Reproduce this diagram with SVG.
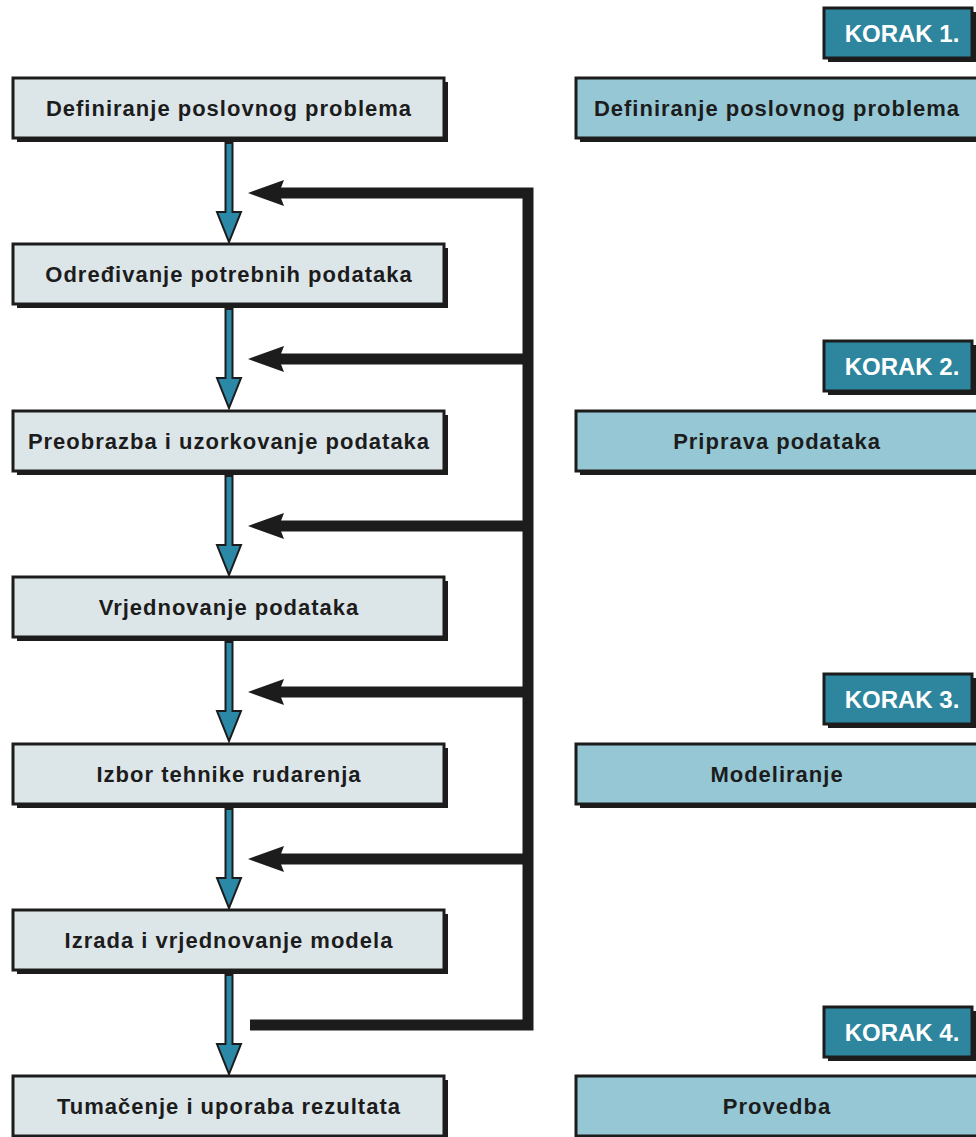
<svg xmlns="http://www.w3.org/2000/svg" width="976" height="1137" viewBox="0 0 976 1137">
<defs>
<style>
.sh{fill:#1c1c1c}
.lb{fill:#dce6e9;stroke:#1c1c1c;stroke-width:3}
.rb{fill:#95c7d5;stroke:#1c1c1c;stroke-width:3}
.kb{fill:#2d869e;stroke:#1c1c1c;stroke-width:3}
.t{font-family:"Liberation Sans",Arial,sans-serif;font-weight:bold;font-size:22px;fill:#1c1c1c;text-anchor:middle;letter-spacing:1px}
.kt{font-family:"Liberation Sans",Arial,sans-serif;font-weight:bold;font-size:24px;fill:#ffffff;text-anchor:middle}
.ba{fill:#2b88a6;stroke:#1c1c1c;stroke-width:2;stroke-linejoin:miter}
.fl{fill:none;stroke:#1c1c1c;stroke-width:11;stroke-linejoin:miter;stroke-linecap:butt}
.fh{fill:#1c1c1c}
</style>
</defs>
<rect width="976" height="1137" fill="#ffffff"/>

<g id="connectors">
<polygon class="ba" points="225.5,143 232.5,143 232.5,212 241,212 229,242 217,212 225.5,212"/>
<polygon class="ba" points="225.5,309 232.5,309 232.5,378 241,378 229,408 217,378 225.5,378"/>
<polygon class="ba" points="225.5,476 232.5,476 232.5,545 241,545 229,575 217,545 225.5,545"/>
<polygon class="ba" points="225.5,642 232.5,642 232.5,711 241,711 229,741 217,711 225.5,711"/>
<polygon class="ba" points="225.5,809 232.5,809 232.5,878 241,878 229,908 217,878 225.5,878"/>
<polygon class="ba" points="225.5,975 232.5,975 232.5,1044 241,1044 229,1074 217,1044 225.5,1044"/>
<path class="fl" d="M278 193 H528 V1025 H250"/>
<path class="fl" d="M278 359 H528 M278 526 H528 M278 692 H528 M278 859 H528"/>
<polygon class="fh" points="248,193 284,180 279,193 284,206"/>
<polygon class="fh" points="248,359 284,346 279,359 284,372"/>
<polygon class="fh" points="248,526 284,513 279,526 284,539"/>
<polygon class="fh" points="248,692 284,679 279,692 284,705"/>
<polygon class="fh" points="248,859 284,846 279,859 284,872"/>
</g>

<g id="n1"><rect class="sh" x="17" y="82" width="431" height="60"/><rect class="lb" x="13" y="78" width="431" height="60"/><text class="t" x="229" y="116">Definiranje poslovnog problema</text></g>
<g id="n2"><rect class="sh" x="17" y="248" width="431" height="60"/><rect class="lb" x="13" y="244" width="431" height="60"/><text class="t" x="229" y="282">Određivanje potrebnih podataka</text></g>
<g id="n3"><rect class="sh" x="17" y="415" width="431" height="60"/><rect class="lb" x="13" y="411" width="431" height="60"/><text class="t" x="229" y="449">Preobrazba i uzorkovanje podataka</text></g>
<g id="n4"><rect class="sh" x="17" y="581" width="431" height="60"/><rect class="lb" x="13" y="577" width="431" height="60"/><text class="t" x="229" y="615">Vrjednovanje podataka</text></g>
<g id="n5"><rect class="sh" x="17" y="748" width="431" height="60"/><rect class="lb" x="13" y="744" width="431" height="60"/><text class="t" x="229" y="782">Izbor tehnike rudarenja</text></g>
<g id="n6"><rect class="sh" x="17" y="914" width="431" height="60"/><rect class="lb" x="13" y="910" width="431" height="60"/><text class="t" x="229" y="948">Izrada i vrjednovanje modela</text></g>
<g id="n7"><rect class="sh" x="17" y="1080" width="431" height="60"/><rect class="lb" x="13" y="1076" width="431" height="60"/><text class="t" x="229" y="1114">Tumačenje i uporaba rezultata</text></g>

<g id="k1"><rect class="sh" x="828" y="12" width="148" height="50"/><rect class="kb" x="824" y="8" width="148" height="50"/><text class="kt" x="902" y="42">KORAK 1.</text></g>
<g id="k2"><rect class="sh" x="828" y="345" width="148" height="50"/><rect class="kb" x="824" y="341" width="148" height="50"/><text class="kt" x="902" y="375">KORAK 2.</text></g>
<g id="k3"><rect class="sh" x="828" y="678" width="148" height="50"/><rect class="kb" x="824" y="674" width="148" height="50"/><text class="kt" x="902" y="708">KORAK 3.</text></g>
<g id="k4"><rect class="sh" x="828" y="1011" width="148" height="50"/><rect class="kb" x="824" y="1007" width="148" height="50"/><text class="kt" x="902" y="1041">KORAK 4.</text></g>

<g id="s1"><rect class="sh" x="580" y="82" width="410" height="60"/><rect class="rb" x="576" y="78" width="410" height="60"/><text class="t" x="777" y="116">Definiranje poslovnog problema</text></g>
<g id="s2"><rect class="sh" x="580" y="415" width="410" height="60"/><rect class="rb" x="576" y="411" width="410" height="60"/><text class="t" x="777" y="449">Priprava podataka</text></g>
<g id="s3"><rect class="sh" x="580" y="748" width="410" height="60"/><rect class="rb" x="576" y="744" width="410" height="60"/><text class="t" x="777" y="782">Modeliranje</text></g>
<g id="s4"><rect class="sh" x="580" y="1080" width="410" height="60"/><rect class="rb" x="576" y="1076" width="410" height="60"/><text class="t" x="777" y="1114">Provedba</text></g>
</svg>
